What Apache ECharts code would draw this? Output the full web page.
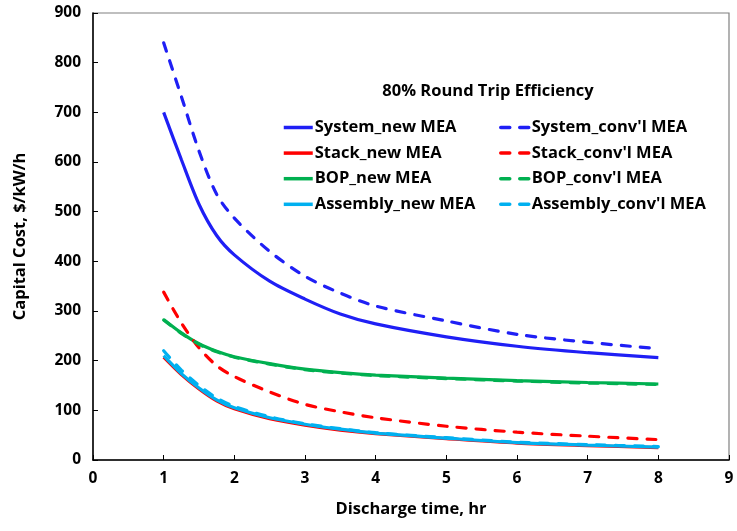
<!DOCTYPE html>
<html><head><meta charset="utf-8">
<script src="https://cdn.jsdelivr.net/npm/echarts@6/dist/echarts.min.js"></script>
<style>html,body{margin:0;padding:0;background:#fff}#c{width:737px;height:531px}</style>
</head><body><div id="c"></div>
<script>
const hours = [1, 1.25, 1.5, 1.75, 2, 2.5, 3, 3.5, 4, 5, 6, 7, 8];
const systemNew = [700, 605, 515, 452, 413, 360, 324, 294, 274, 248, 229, 216, 206];
const stackNew = [207, 172, 143, 119, 103, 83, 70, 60, 53, 43, 34, 29, 25];
const bopNew = [283, 256, 234, 219, 208, 194, 183, 176, 171, 165, 160, 156, 153];
const assemblyNew = [210, 174, 145, 121, 105, 85, 72, 62, 54, 44, 35, 30, 26];
const systemConv = [840, 732, 622, 535, 487, 420, 370, 336, 310, 280, 253, 237, 224];
const stackConv = [338, 276, 226, 190, 168, 137, 112, 97, 85, 68, 56, 48, 41];
const bopConv = [282, 255, 233, 218, 207, 193, 182, 175, 170, 164, 159, 155, 152];
const assemblyConv = [220, 181, 150, 125, 108, 87, 73, 63, 55, 45, 36, 31, 27];
const xTicks = [0, 1, 2, 3, 4, 5, 6, 7, 8, 9];
const yTicks = [0, 100, 200, 300, 400, 500, 600, 700, 800, 900];

const BLUE = '#1f1ff5', RED = '#ff0000', GREEN = '#00b050', CYAN = '#00b0f0';
const FONT = 'Open Sans';
function pts(ys) { return hours.map((h, i) => [h, ys[i]]); }
function mk(name, ys, color, dashed, z) {
  return {
    name, type: 'line', data: pts(ys), smooth: 0.3, showSymbol: false, symbol: 'none', z,
    lineStyle: { color, width: 3.2, type: dashed ? [9, 10] : 'solid', cap: dashed ? 'round' : 'butt' },
    itemStyle: { color }, emphasis: { disabled: true }
  };
}
const chart = echarts.init(document.getElementById('c'));
const legendText = { fontFamily: FONT, fontWeight: 'bold', fontSize: 16.5, color: '#000', padding: [0, 0, 0, -3] };
const legendItem = { color: 'rgba(0,0,0,0)', borderColor: 'rgba(0,0,0,0)', borderWidth: 0 };
chart.setOption({
  animation: false,
  textStyle: { fontFamily: FONT },
  title: { text: '80% Round Trip Efficiency', left: 483, top: 78, textAlign: 'center',
    textStyle: { fontFamily: FONT, fontWeight: 'bold', fontSize: 16.5, color: '#000' } },
  grid: { left: 93, top: 13, right: 8, bottom: 71, show: true, borderColor: '#808080', borderWidth: 1.2 },
  legend: [
    { data: ['System_new MEA', 'Stack_new MEA', 'BOP_new MEA', 'Assembly_new MEA'],
      orient: 'vertical', left: 282, top: 119, itemGap: 8.6, itemWidth: 29, itemHeight: 18,
      itemStyle: legendItem, lineStyle: { width: 3.5 }, textStyle: legendText, padding: 0, selectedMode: false },
    { data: ['System_conv\'l MEA', 'Stack_conv\'l MEA', 'BOP_conv\'l MEA', 'Assembly_conv\'l MEA'],
      orient: 'vertical', left: 499, top: 119, itemGap: 8.6, itemWidth: 29, itemHeight: 18,
      itemStyle: legendItem, lineStyle: { width: 3.5 }, textStyle: legendText, padding: 0, selectedMode: false }
  ],
  xAxis: {
    type: 'value', min: 0, max: 9, interval: 1,
    name: 'Discharge time, hr', nameLocation: 'middle', nameGap: 41,
    nameTextStyle: { fontFamily: FONT, fontWeight: 'bold', fontSize: 16.5, color: '#000' },
    axisLine: { show: true, lineStyle: { color: '#000', width: 1.5 } },
    axisTick: { show: true, inside: true, length: 5, lineStyle: { color: '#000' } },
    axisLabel: { fontFamily: FONT, fontWeight: 'bold', fontSize: 15.5, color: '#000', margin: 11,
      formatter: v => xTicks.includes(v) ? String(v) : '' },
    splitLine: { show: false }
  },
  yAxis: {
    type: 'value', min: 0, max: 900, interval: 100,
    name: 'Capital Cost, $/kW/h', nameLocation: 'middle', nameGap: 64, nameRotate: 90,
    nameTextStyle: { fontFamily: FONT, fontWeight: 'bold', fontSize: 16.5, color: '#000' },
    axisLine: { show: true, lineStyle: { color: '#000', width: 1.5 } },
    axisTick: { show: true, inside: true, length: 5, lineStyle: { color: '#000' } },
    axisLabel: { fontFamily: FONT, fontWeight: 'bold', fontSize: 15.5, color: '#000', margin: 12,
      formatter: v => yTicks.includes(v) ? String(v) : '' },
    splitLine: { show: false }
  },
  series: [
    mk('System_new MEA', systemNew, BLUE, false, 2),
    mk('Stack_new MEA', stackNew, RED, false, 2),
    mk('BOP_new MEA', bopNew, GREEN, false, 2),
    mk('Assembly_new MEA', assemblyNew, CYAN, false, 3),
    mk('System_conv\'l MEA', systemConv, BLUE, true, 4),
    mk('Stack_conv\'l MEA', stackConv, RED, true, 4),
    mk('BOP_conv\'l MEA', bopConv, GREEN, true, 4),
    mk('Assembly_conv\'l MEA', assemblyConv, CYAN, true, 4)
  ]
});
</script></body></html>
